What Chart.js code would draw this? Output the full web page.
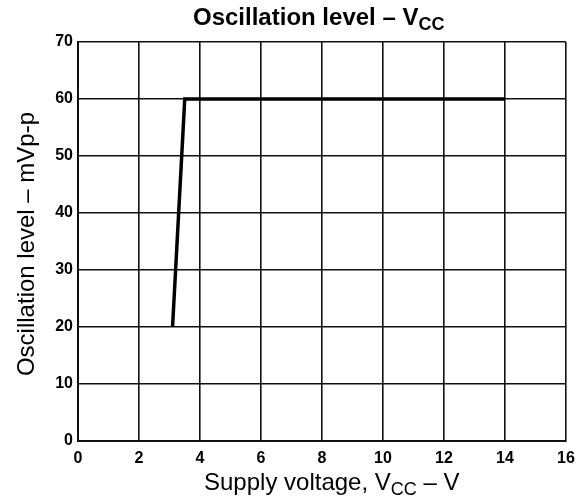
<!DOCTYPE html>
<html><head><meta charset="utf-8">
<script src="https://cdn.jsdelivr.net/npm/chart.js@4"></script>
<style>html,body{margin:0;padding:0;background:#fff}#wrap{width:585px;height:499px}</style>
</head><body><div id="wrap"><canvas id="c" width="585" height="499"></canvas></div>
<script>
const voltage = [3.1, 3.5, 14];
const level = [20, 60, 60];
const xTicks = [0, 2, 4, 6, 8, 10, 12, 14, 16];
const yTicks = [0, 10, 20, 30, 40, 50, 60, 70];

function drawSub(ctx, parts, x, y, size, subSize, weight) {
  const mainF = weight + ' ' + size + 'px "Liberation Sans", Arial, sans-serif';
  const subF = weight + ' ' + subSize + 'px "Liberation Sans", Arial, sans-serif';
  let cx = x;
  ctx.textBaseline = 'alphabetic';
  ctx.textAlign = 'left';
  parts.forEach(p => {
    ctx.font = p[1] ? subF : mainF;
    ctx.fillText(p[0], cx, y + (p[1] ? size * 0.22 : 0));
    cx += ctx.measureText(p[0]).width;
  });
}

const labelsPlugin = {
  id: 'labels',
  afterDraw(chart) {
    const ctx = chart.ctx;
    ctx.save();
    ctx.fillStyle = '#000';
    drawSub(ctx, [['Oscillation level \u2013 V', false], ['CC', true]], 193, 25, 24, 18, 'bold');
    drawSub(ctx, [['Supply voltage, V', false], ['CC', true], [' \u2013 V', false]], 204, 490, 24, 18, 'normal');
    ctx.translate(34, 244);
    ctx.rotate(-Math.PI / 2);
    ctx.font = 'normal 24px "Liberation Sans", Arial, sans-serif';
    ctx.textAlign = 'center';
    ctx.textBaseline = 'alphabetic';
    ctx.fillText('Oscillation level \u2013 mVp-p', 0, 0);
    ctx.restore();
  }
};

new Chart(document.getElementById('c'), {
  type: 'line',
  data: {
    datasets: [{
      data: voltage.map((v, i) => ({ x: v, y: level[i] })),
      borderColor: '#000',
      borderWidth: 3.5,
      pointRadius: 0,
      tension: 0,
      fill: false
    }]
  },
  options: {
    responsive: false,
    animation: false,
    layout: { padding: { top: 42, right: 19, left: 0, bottom: 0 } },
    plugins: { legend: { display: false }, title: { display: false }, tooltip: { enabled: false } },
    scales: {
      x: {
        type: 'linear', min: 0, max: 16,
        afterBuildTicks: s => { s.ticks = xTicks.map(v => ({ value: v })); },
        afterFit: s => { s.height = 58; },
        grid: { color: '#111', lineWidth: 1.6, drawTicks: false },
        border: { color: '#111', width: 2 },
        ticks: { color: '#000', padding: 8, font: { size: 16, weight: 'bold', family: '"Liberation Sans", Arial, sans-serif' } }
      },
      y: {
        type: 'linear', min: 0, max: 70,
        afterBuildTicks: s => { s.ticks = yTicks.map(v => ({ value: v })); },
        afterFit: s => { s.width = 78; },
        grid: { color: '#111', lineWidth: 1.6, drawTicks: false },
        border: { color: '#111', width: 2 },
        ticks: { color: '#000', padding: 5, font: { size: 16, weight: 'bold', family: '"Liberation Sans", Arial, sans-serif' } }
      }
    }
  },
  plugins: [labelsPlugin]
});
</script></body></html>
